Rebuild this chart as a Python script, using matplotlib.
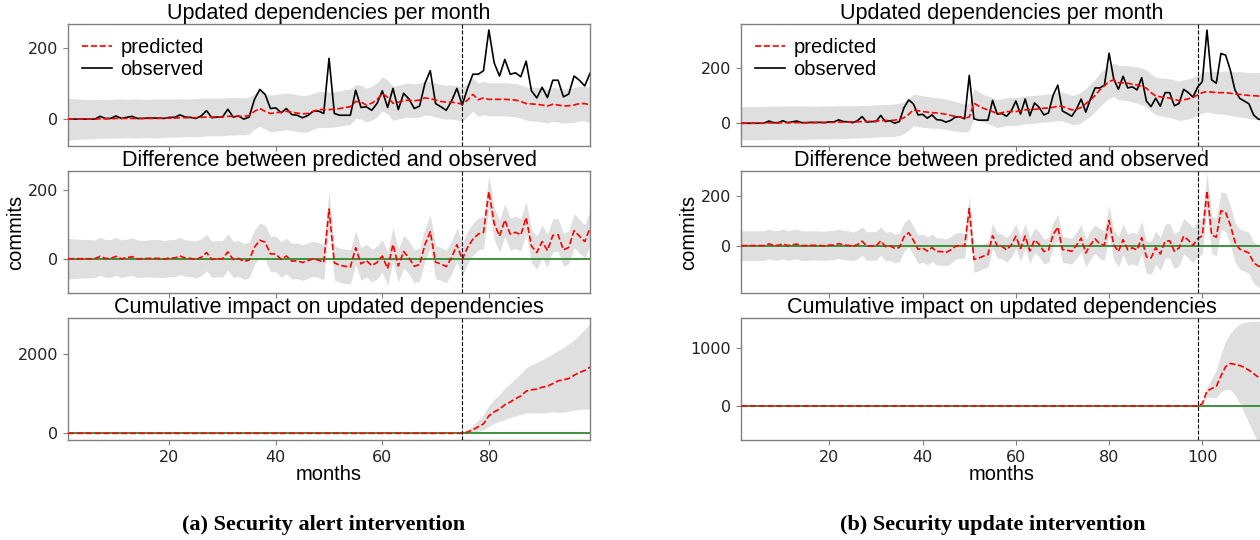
import numpy as np
import matplotlib
matplotlib.use("Agg")
import matplotlib.pyplot as plt

plt.rcParams.update({"font.family": "DejaVu Sans", "axes.edgecolor": "#808080",
                     "axes.linewidth": 1.0, "xtick.color": "#808080", "ytick.color": "#808080",
                     "xtick.labelcolor": "#222222", "ytick.labelcolor": "#222222",
                     "xtick.labelsize": 11.5, "ytick.labelsize": 11.5})
HFONT = "Liberation Sans"

# observed updated dependencies per month (same series in both panels)
observed = [0, 0, 0, 0, 0, 0, 8, 2, 2, 9,
            2, 5, 8, 2, 2, 3, 3, 3, 2, 5,
            5, 12, 6, 5, 2, 9, 24, 4, 6, 6,
            28, 6, 9, 0, 6, 56, 84, 70, 30, 32,
            18, 30, 13, 11, 4, 10, 22, 23, 16, 172,
            16, 11, 11, 11, 82, 33, 35, 25, 44, 80,
            33, 87, 27, 73, 57, 30, 37, 101, 137, 44,
            35, 25, 51, 87, 40, 87, 127, 127, 137, 252,
            159, 122, 169, 127, 131, 120, 164, 80, 60, 90,
            61, 110, 110, 63, 71, 122, 110, 94, 130, 150,
            335, 156, 144, 251, 245, 192, 120, 90, 80, 70,
            30, 15, 10]

# (a) security alert, intervention at month 75
pred_a = [0, 0, 0, 0, 0, 0, 1, 1, 1, 2,
          2, 2, 2, 2, 2, 2, 2, 2, 3, 3,
          3, 4, 4, 4, 4, 5, 6, 6, 6, 6,
          8, 8, 8, 8, 10, 22, 30, 22, 16, 18,
          20, 22, 20, 17, 15, 16, 22, 27, 27, 27,
          28, 30, 33, 35, 50, 48, 40, 45, 55, 72,
          62, 45, 48, 52, 54, 52, 54, 60, 58, 54,
          50, 48, 48, 46, 42, 54, 70, 55, 60, 56,
          56, 56, 56, 55, 54, 50, 44, 43, 42, 40,
          37, 42, 40, 37, 38, 40, 44, 44, 40]
hw_a = [60, 58, 57, 56, 56, 55, 55, 55, 55, 55,
        55, 54, 55, 55, 54, 54, 55, 55, 54, 54,
        54, 54, 53, 53, 54, 54, 53, 53, 53, 53,
        53, 53, 52, 52, 52, 50, 50, 50, 52, 52,
        52, 52, 52, 52, 52, 52, 51, 51, 51, 50,
        50, 50, 50, 50, 48, 48, 48, 48, 48, 48,
        48, 48, 48, 48, 48, 48, 48, 48, 48, 48,
        48, 48, 48, 48, 48, 47, 47, 47, 47, 47,
        47, 47, 47, 47, 47, 47, 47, 48, 48, 48,
        48, 48, 48, 48, 48, 49, 49, 49, 50]
cum_a = [0, 35, 90, 165, 240, 440, 540, 610, 720, 790, 870, 940, 1060,
         1095, 1110, 1160, 1185, 1250, 1320, 1345, 1380, 1460, 1530, 1580, 1665]
cum_lo_a = [0, 0, 20, 50, 90, 180, 250, 300, 350, 400, 440, 470, 520,
            520, 510, 510, 520, 540, 530, 530, 560, 580, 600, 610, 620]
cum_hi_a = [0, 90, 200, 330, 470, 700, 850, 980, 1130, 1250, 1380, 1500, 1650,
            1720, 1780, 1850, 1920, 2000, 2080, 2160, 2250, 2350, 2480, 2620, 2750]

# (b) security update, intervention at month 99
pred_b = [0, 0, 0, 0, 0, 0, 1, 1, 1, 2,
          2, 2, 2, 2, 2, 2, 2, 3, 3, 3,
          3, 4, 4, 4, 5, 5, 6, 6, 7, 8,
          9, 10, 10, 11, 14, 20, 32, 48, 45, 42,
          40, 38, 37, 35, 32, 28, 25, 22, 18, 22,
          72, 62, 54, 48, 42, 34, 38, 42, 42, 42,
          45, 48, 49, 50, 52, 54, 55, 57, 62, 60,
          54, 48, 50, 57, 70, 84, 100, 120, 135, 150,
          156, 146, 145, 144, 140, 138, 132, 126, 110, 98,
          95, 93, 90, 86, 81, 84, 88, 93, 102, 110,
          114, 112, 110, 110, 110, 108, 105, 104, 102, 100,
          99, 98, 97]
hw_b = [60, 60, 60, 60, 60, 60, 60, 60, 60, 60,
        60, 60, 60, 60, 60, 59, 59, 59, 59, 59,
        59, 59, 59, 59, 58, 58, 58, 58, 58, 58,
        58, 58, 58, 58, 58, 57, 57, 57, 57, 57,
        56, 56, 55, 55, 54, 54, 53, 52, 50, 50,
        52, 52, 50, 50, 50, 50, 50, 50, 50, 50,
        50, 50, 50, 50, 50, 50, 50, 50, 52, 52,
        52, 52, 54, 55, 56, 58, 58, 60, 60, 60,
        60, 62, 62, 63, 64, 65, 66, 66, 67, 68,
        68, 69, 70, 70, 71, 72, 72, 72, 72, 73,
        74, 75, 76, 77, 78, 79, 80, 81, 82, 83,
        84, 85, 86]
cum_b = [0, 40, 260, 300, 340, 520, 680, 735, 720, 700, 670, 620, 560, 500, 440]
cum_lo_b = [0, 20, 150, 150, 140, 250, 285, 280, 190, 60, -120, -300, -480, -640, -800]
cum_hi_b = [0, 60, 330, 470, 620, 900, 1120, 1260, 1350, 1420, 1445, 1460, 1465, 1465, 1465]

fig = plt.figure(figsize=(12.6, 5.4), dpi=100)
rows = [0.7296, 0.4574, 0.1852]
H = 0.2259


def panel(x0, obs, pred, hw, t0, cum, cum_lo, cum_hi, ylims, yticks, caption, cap_x):
    n = len(pred)
    m = np.arange(1, n + 1)
    obs = np.array(obs[:n], float); pred = np.array(pred, float); hw = np.array(hw, float)
    axs = [fig.add_axes([x0, r, 0.4143, H]) for r in rows]
    # original
    ax = axs[0]
    ax.fill_between(m, pred - hw, pred + hw, color="grey", alpha=0.25, lw=0, zorder=1)
    ax.plot(m, pred, "r--", lw=1.2, label="predicted", zorder=3)
    ax.plot(m, obs, "k-", lw=1.2, label="observed", zorder=2)
    ax.legend(loc="upper left", frameon=False, prop={"family": HFONT, "size": 14.5},
              handlelength=1.5, handletextpad=0.4, labelspacing=0.15, borderaxespad=0.3)
    ax.set_title("Updated dependencies per month", family=HFONT, fontsize=15.5, pad=2)
    # pointwise
    ax = axs[1]
    d = obs - pred
    ax.fill_between(m, obs - (pred + hw), obs - (pred - hw), color="grey", alpha=0.25, lw=0, zorder=1)
    ax.plot(m, d, "r--", lw=1.2, zorder=3)
    ax.axhline(0, color="#2e8b2e", lw=1.3, zorder=2)
    ax.set_ylabel("commits", family=HFONT, fontsize=14.5, labelpad=2)
    ax.set_title("Difference between predicted and observed", family=HFONT, fontsize=15.5, pad=2)
    # cumulative
    ax = axs[2]
    mp = np.arange(t0, n + 1)
    c = np.concatenate([np.zeros(t0 - 1), cum[:len(mp)]])
    ax.fill_between(mp, cum_lo[:len(mp)], cum_hi[:len(mp)], color="grey", alpha=0.25, lw=0, zorder=1)
    ax.plot(m, c, "r--", lw=1.2, zorder=3)
    ax.axhline(0, color="#2e8b2e", lw=1.3, zorder=2)
    ax.set_xlabel("months", family=HFONT, fontsize=14.5, labelpad=0)
    ax.set_title("Cumulative impact on updated dependencies", family=HFONT, fontsize=15.5, pad=2)
    for i, ax in enumerate(axs):
        ax.axvline(t0, color="k", ls="--", lw=0.8, zorder=4)
        ax.set_xlim(1, n)
        ax.set_ylim(*ylims[i])
        ax.set_yticks(yticks[i])
        if i < 2:
            ax.tick_params(labelbottom=False)
    fig.text(cap_x, 0.028, caption, ha="center", va="center", family="Liberation Serif",
             fontweight="bold", fontsize=16)


panel(0.054, observed, pred_a, hw_a, 75, cum_a, cum_lo_a, cum_hi_a,
      [(-76, 269), (-100, 256), (-167, 2900)], [[0, 200], [0, 200], [0, 2000]],
      "(a) Security alert intervention", 0.257)
panel(0.588, observed, pred_b, hw_b, 99, cum_b, cum_lo_b, cum_hi_b,
      [(-82, 357), (-192, 302), (-589, 1523)], [[0, 200], [0, 200], [0, 1000]],
      "(b) Security update intervention", 0.788)

fig.savefig("out.png", dpi=100)
